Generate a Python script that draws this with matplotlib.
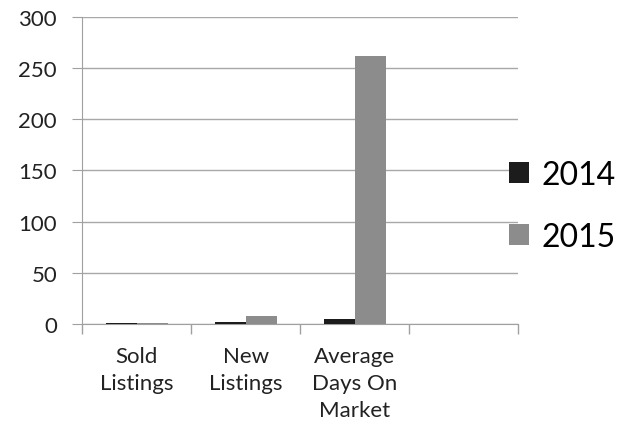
import numpy as np
import matplotlib.pyplot as plt

# chart data
categories = ["Sold\nListings", "New\nListings", "Average\nDays On\nMarket", ""]
series_names = ["2014", "2015"]
values_2014 = [1, 2, 4.5, np.nan]
values_2015 = [1, 8, 262, np.nan]
colors = ["#1c1c1c", "#8c8c8c"]

plt.rcParams['font.family'] = ['Lato', 'DejaVu Sans']

fig = plt.figure(figsize=(6.22, 4.27), dpi=100)
ax = fig.add_axes([0.132, 0.239, 0.701, 0.719])

x = np.arange(len(categories))
w = 0.285
ax.bar(x - w / 2, values_2014, w, color=colors[0], label=series_names[0], zorder=3)
ax.bar(x + w / 2, values_2015, w, color=colors[1], label=series_names[1], zorder=3)

ax.set_xlim(-0.5, len(categories) - 0.5)
ax.set_ylim(0, 300)
ax.set_yticks(range(0, 301, 50))
ax.set_xticks(x)
ax.set_xticklabels(categories, fontsize=16, color="#222222", linespacing=1.42, va="top")
ax.set_xticks(np.arange(-0.5, len(categories), 1), minor=True)
ax.tick_params(axis="x", which="major", length=0, pad=16)
ax.tick_params(axis="x", which="minor", length=7, color="#a0a0a0", width=1)
ax.tick_params(axis="y", length=7, color="#a0a0a0", labelsize=16, labelcolor="#222222", pad=11)

ax.yaxis.grid(True, color="#a8a8a8", linewidth=1, zorder=0)
for s in ["top", "right"]:
    ax.spines[s].set_visible(False)
ax.spines["left"].set_color("#a0a0a0")
ax.spines["bottom"].set_color("#a0a0a0")

fig.legend(loc="center left", bbox_to_anchor=(0.818, 0.516), frameon=False,
           fontsize=23, handlelength=0.62, handleheight=0.62, handletextpad=0.4,
           labelspacing=1.0, borderaxespad=0, borderpad=0)

fig.savefig("out.png", dpi=100)
